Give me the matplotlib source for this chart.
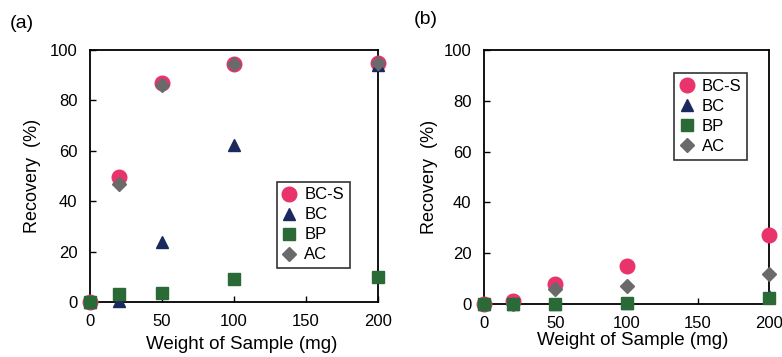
import matplotlib
matplotlib.use("Agg")
import matplotlib.pyplot as plt

plt.rcParams["font.family"] = ["Liberation Sans", "DejaVu Sans"]

weights = [0, 20, 50, 100, 200]

# panel (a)
a_bcs = [0, 49.5, 87, 94.5, 95]
a_bc = [0, 0.5, 24, 62.5, 94]
a_bp = [0, 3, 3.5, 9, 10]
a_ac = [0, 47, 86, 94.5, 95]

# panel (b)
b_bcs = [0, 1, 8, 15, 27]
b_bc = [0, 0, 0, 0.5, 3]
b_bp = [0, 0, 0, 0.5, 2.5]
b_ac = [0, 0, 6, 7, 12]

series_names = ["BC-S", "BC", "BP", "AC"]
styles = [
    dict(marker="o", color="#e8336b", ms=10.5),
    dict(marker="^", color="#1b2a5c", ms=9),
    dict(marker="s", color="#2a6a36", ms=8.5),
    dict(marker="D", color="#6a6a6a", ms=7.5),
]

fig = plt.figure(figsize=(7.82, 3.57), dpi=100)
W, H = 782, 357
ax_a = fig.add_axes([90 / W, 1 - 302 / H, 288 / W, 252 / H])
ax_b = fig.add_axes([484 / W, 1 - 304 / H, 285 / W, 254 / H])


def draw(ax, data, legend_box, ylab_x, xlab_pos):
    # draw AC after BC-S so gray diamonds sit over pink circles
    order = [0, 1, 3, 2]
    handles = {}
    for i in order:
        st = styles[i]
        h, = ax.plot(weights, data[i], linestyle="none", marker=st["marker"],
                     color=st["color"], ms=st["ms"], mec=st["color"],
                     clip_on=False, zorder=3, label=series_names[i])
        handles[i] = h
    ax.set_xlim(0, 200)
    ax.set_ylim(0, 100)
    ax.set_xticks([0, 50, 100, 150, 200])
    ax.set_yticks([0, 20, 40, 60, 80, 100])
    ax.tick_params(direction="in", length=4, width=1, labelsize=12, pad=9)
    for s in ax.spines.values():
        s.set_linewidth(1.3)
    ax.set_xlabel("Weight of Sample (mg)", fontsize=13.5)
    ax.set_ylabel("Recovery  (%)", fontsize=13)
    ax.yaxis.set_label_coords(ylab_x, 0.5)
    ax.xaxis.set_label_coords(*xlab_pos)
    ax.xaxis.label.set_va("center")
    ax.yaxis.label.set_va("center")
    leg = ax.legend([handles[i] for i in range(4)], series_names,
                    loc="upper left", bbox_to_anchor=legend_box,
                    fontsize=12, frameon=True, fancybox=False,
                    edgecolor="black", handlelength=0.8, handletextpad=0.5,
                    borderpad=0.35, labelspacing=0.3, borderaxespad=0)
    leg.get_frame().set_linewidth(1.2)


draw(ax_a, [a_bcs, a_bc, a_bp, a_ac], (0.649, 0.478), -0.2, (0.527, -0.17))
draw(ax_b, [b_bcs, b_bc, b_bp, b_ac], (0.667, 0.91), -0.19, (0.523, -0.145))

fig.text(10 / W, 1 - 24 / H, "(a)", fontsize=14, va="center")
fig.text(414 / W, 1 - 20 / H, "(b)", fontsize=14, va="center")

fig.savefig("out.png", dpi=100)
